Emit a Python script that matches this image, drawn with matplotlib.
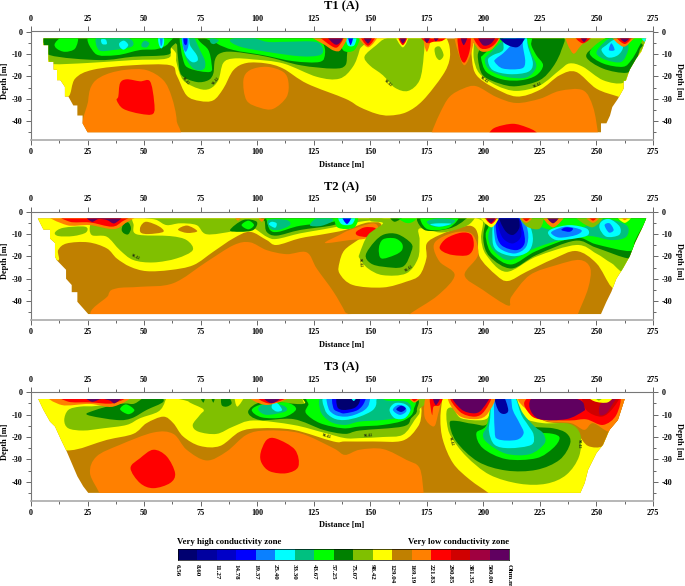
import matplotlib
matplotlib.use("Agg")
from matplotlib import pyplot as plt
from matplotlib.colors import ListedColormap
from matplotlib.patches import PathPatch, Polygon
from matplotlib.path import Path
import numpy as np

plt.rcParams['font.family'] = ['Liberation Serif', 'DejaVu Serif']
plt.rcParams['font.weight'] = 'bold'

LEVEL_LABELS = ["6.56", "8.60", "11.27", "14.78", "19.37", "25.40", "33.30",
                "43.67", "57.25", "75.07", "98.42", "129.04", "169.19",
                "221.83", "290.85", "381.35", "500.00", "Ohm.m"]
BAND_COLORS = ["#000070", "#0000a0", "#0000c8", "#0000ff", "#0a80ff", "#00ffff",
               "#00c080", "#00ff00", "#008000", "#80c000", "#ffff00", "#c08000",
               "#ff8000", "#ff0000", "#d00000", "#a00040", "#600060"]
NAVY, DBLUE, MBLUE, BLUE, SKY, CYAN, TEAL, GREEN, DGREEN, OLIVE, YELLOW, BROWN, \
    ORANGE, RED, CRIMSON, WINE, PURPLE = BAND_COLORS

DIST_TICKS = [0, 25, 50, 75, 100, 125, 150, 175, 200, 225, 250, 275]
DEPTH_TICKS = [0, 10, 20, 30, 40]
DEPTH_LABELS = ["0", "-10", "-20", "-30", "-40"]

# measured extent of each section (distance m, depth m)
T1_OUTLINE = [(3.2, 3), (5.5, 3), (5.5, 6), (7.7, 6), (7.7, 13.5), (10, 13.5), (10, 17), (11.5, 17),
              (11.5, 21.7), (13, 21.7), (15, 24.7), (15, 29), (16.5, 29), (18.7, 33), (20.5, 33),
              (20.5, 37.5), (22.8, 37.5), (22.8, 41), (25, 45), (252, 45), (252, 41), (254.4, 41),
              (256, 37.5), (257, 33.7), (259.5, 30), (262, 25.5), (262, 22), (263, 22), (264.7, 17),
              (267.6, 12), (269.8, 9), (272, 3)]
T2_OUTLINE = [(3, 3), (5.5, 8), (8.4, 8), (8.4, 12), (10.6, 14), (10.6, 20), (11.3, 21.6), (15.5, 26),
              (15.5, 30), (18, 32.8), (18, 36), (20.5, 36), (20.5, 40.3), (25.3, 45.8), (252, 45.8),
              (254.4, 40.3), (256.6, 35.8), (258.8, 30), (261.7, 25.4), (264.7, 20), (267, 14),
              (269.9, 8), (272, 3)]
T3_OUTLINE = [(3.2, 3), (5.5, 7.9), (8.4, 13.1), (10.6, 15.3), (13.3, 21.3), (15.8, 26.5), (18, 31.7),
              (20.5, 37.6), (23.1, 42.1), (25.3, 45), (242.9, 45), (244.8, 40.6), (246.3, 34.7),
              (250, 27.2), (252.9, 23.5), (255.8, 16.8), (259.5, 12.4), (262.5, 3)]

# contour bands traced off each section, drawn back to front
T1_BANDS = [
    (YELLOW, [(0, -3), (0, 15), (10, 26), (16.5, 29), (19.5, 21), (27.5, 17), (45, 15), (61.5, 15), (64.4, 19.5),
              (68.8, 28.5), (74.7, 31), (80.6, 30.7), (85, 25.5), (89.5, 17.2), (95.3, 14), (104, 14.2), (111.5, 16.5),
              (122, 23.2), (139, 30), (145.3, 33.7), (152.7, 36.7), (158.5, 37.5), (166, 36), (173.3, 30.7), (182, 19.5),
              (185, 12.7), (185, 6.5), (183, 0.7), (183, -3)]),
    (YELLOW, [(195, -3), (194.7, 0.7), (195, 12.7), (197, 19.5), (204, 24.7), (214.6, 29), (225, 26), (233.7, 19.5),
              (241, 18), (250, 25.5), (259.5, 29), (264.7, 30.7), (285, 32), (285, -3)]),
    (ORANGE, [(25.3, 48), (25.3, 30.7), (27.5, 23), (33.5, 19), (42.3, 17), (51.1, 17.2), (58.5, 21.7), (62.2, 29.2),
              (64.4, 39.7), (63, 48)]),
    (RED, [(38.6, 29), (39.4, 23), (42.3, 21.3), (48.2, 22.2), (52.6, 22.2), (54.4, 31), (54, 36.7), (48.2, 36.7),
           (40.8, 34.5), (37.9, 30.7)]),
    (ORANGE, [(93.9, 21.7), (96.8, 17.2), (104.2, 15.7), (111.5, 18), (113.8, 22.5), (113, 29.2), (107.1, 34.5),
              (101.2, 34), (95.3, 30.7)]),
    (ORANGE, [(177, 49), (177, 45.7), (180.7, 36.7), (185, 29.2), (191, 25.5), (196.9, 24.4), (205.7, 29.2),
              (214.6, 31.9), (225, 30), (233.7, 26.5), (244, 26.2), (248.5, 33.7), (250.7, 45.7), (250.7, 49)]),
    (RED, [(201, 49), (202.8, 45), (205.7, 42.7), (213, 41.2), (219, 42.7), (223.4, 45), (225, 49)]),
    # olive
    (OLIVE, [(0, -2), (4, 4), (7.7, 12.7), (10, 14.5), (25, 14), (45, 12.7), (60, 12), (61.7, 8), (61.7, -2)]),
    (OLIVE, [(64, -2), (64.2, 10), (64.4, 14), (67.3, 21.7), (74.2, 25.5), (79.1, 25.5), (82.8, 21.7), (85, 14),
             (89.5, 12), (98.3, 12.4), (111.5, 14.2), (126.4, 20.2), (136.4, 21), (142.3, 15.7), (145.3, 8), (147, -2)]),
    (OLIVE, [(147.5, 11), (152.7, 6), (157, 3), (166, 2), (173.3, 3), (173.6, 11), (171.8, 21.7), (166.7, 26.5),
             (160.8, 25), (155.6, 19.5), (149.7, 15)]),
    (OLIVE, [(178.5, 7.5), (180.7, 6.7), (182.4, 10.5), (180.7, 12.7), (179, 11)]),
    (OLIVE, [(195.8, 0), (195.8, 5.5), (195.8, 12.2), (198.3, 18.7), (205.7, 24), (214.6, 26.5), (225, 24), (233.7, 17.2),
             (238.1, 14.2), (244, 15.7), (252.9, 21.7), (261.7, 22.9), (264.7, 17.2), (269, 9.7), (275, 1), (275, -2)]),
    # dark green
    (DGREEN, [(3, 0), (5.5, 5), (8.4, 10.5), (30.4, 12.7), (45.2, 11.2), (60, 10.4), (61.7, 7.5), (61.7, 0)]),
    (DGREEN, [(64.3, 0), (64.6, 6), (65.1, 12.7), (66.6, 19.5), (73.2, 22.5), (78.4, 21.7), (80.6, 18.7), (81.3, 12.7),
              (83.6, 9.7), (89.5, 9), (104.2, 11.2), (119, 15), (133.7, 16.5), (139, 15), (140, 8.7), (143, 3.7), (144, 0)]),
    (DGREEN, [(197.6, 12), (199.8, 19.5), (207.2, 23.2), (214.6, 24.4), (224.9, 21.7), (230.8, 15.7), (234.5, 8.2),
              (234.9, 2), (220.5, 1), (207.2, 1), (201.3, 6), (198.3, 8.2)]),
    (DGREEN, [(245.5, 11.2), (252.9, 16.5), (263.2, 18.4), (266.9, 15), (269.1, 8.2), (269.8, 5.2), (258.8, 1), (250, 6)]),
    # bright green
    (GREEN, [(10.6, 5.2), (14.3, 2), (20.5, 2), (19.5, 7.5), (15, 9), (11.3, 7.5)]),
    (GREEN, [(27.5, 0), (28.3, 9.7), (37.9, 10.5), (48.2, 8.2), (55.6, 7.8), (60.7, 5.2), (60.7, 0)]),
    (GREEN, [(65.9, 1), (67.3, 12.7), (70.2, 16.5), (79.1, 18), (79.8, 14.2), (78.4, 8.2), (74.7, 4.5), (71.8, 1)]),
    (GREEN, [(78.4, 1), (82.1, 5.2), (89.5, 8.2), (102.7, 10.5), (116, 13.2), (127.7, 13.5), (130, 9.7), (129, 5), (125, 1)]),
    (GREEN, [(199, 12), (201.3, 18), (208.6, 21.4), (216.8, 21.7), (223.4, 19.5), (226.4, 15), (223.4, 10.5), (221.2, 6),
             (220.5, 1), (207.2, 1), (202, 8.2), (199.8, 10.5)]),
    (GREEN, [(247, 9.7), (252.9, 14.2), (261.7, 15.7), (265.4, 12.7), (268.4, 7.5), (270.6, 1), (259.5, 1), (251.4, 4.5)]),
    (GREEN, [(137.2, 1), (137.9, 8.2), (143, 8.2), (145.3, 1)]),
    # teal
    (TEAL, [(29.3, 2), (30, 8.2), (36.4, 8.2), (44.5, 6.7), (44.5, 3.7), (39.4, 2)]),
    (TEAL, [(49, 5.2), (50.4, 4), (52.3, 5.2), (51.1, 7), (49, 6.7)]),
    (TEAL, [(66.6, 1), (68, 10.5), (71.8, 16.5), (76.2, 16.9), (77, 13.5), (74.7, 8.2), (71, 1)]),
    (TEAL, [(88, 3.7), (92.4, 6.7), (104.2, 9), (119, 11), (127.7, 10.5), (129, 7.5), (125.6, 4.5), (113, 4.5), (104.2, 4.5),
            (95.4, 2)]),
    (TEAL, [(79, 3), (81, 3), (83, 4), (81, 5.5), (79.5, 5)]),
    (TEAL, [(200.6, 12.7), (202.8, 17.2), (210.1, 20.2), (219, 20.5), (223.4, 15.7), (221.2, 9.7), (219.7, 5.2), (218.2, 1),
            (210.1, 3), (202.8, 9.7)]),
    (TEAL, [(250, 9.7), (254.4, 12.7), (261, 13.5), (264, 8.2), (263.2, 4.5), (258, 2), (252.9, 5.2)]),
    # cyan and blue
    (CYAN, [(39, 5.2), (41.1, 4), (43, 6), (41.1, 8), (39.4, 7)]),
    (CYAN, [(31, 3.5), (33, 3.5), (33.5, 5.5), (31.5, 5.5)]),
    (CYAN, [(56.3, 1), (58.5, 1), (58.8, 5.2), (57.6, 7.5), (56.4, 5.2)]),
    (SKY, [(57, 1), (58.2, 1), (58, 5.5), (57.3, 6)]),
    (CYAN, [(66.6, 1), (68, 9.7), (71, 13.5), (73.6, 13), (73.3, 10.5), (70.3, 6), (69.6, 1)]),
    (SKY, [(67, 1), (67.3, 6.7), (68.4, 9), (69.6, 6), (69.2, 1)]),
    (BLUE, [(67.3, 1), (67.6, 5), (68.4, 6), (69, 5), (69, 1)]),
    (CYAN, [(139.4, 1), (140, 6), (143, 6), (143.8, 1)]),
    (BLUE, [(140, 1), (141.3, 6), (142.6, 1)]),
    (CYAN, [(202, 12.7), (204.2, 17.2), (211.6, 19), (219.7, 18), (221.9, 14.2), (219.7, 6.7), (218.2, 1), (209.4, 2),
            (208.7, 8.2), (204.2, 10.5)]),
    (SKY, [(205, 13.5), (208.7, 16.5), (216.8, 16.5), (218.5, 13.5), (217.5, 6.7), (216.8, 1), (211.6, 6.7), (208.7, 9.7),
           (205.7, 12)]),
    (DBLUE, [(206.9, 1), (209.4, 5.2), (214.6, 7), (217.5, 4.5), (218, 1)]),
    (CYAN, [(252.2, 8.2), (255.1, 11.5), (259.5, 10.5), (261.7, 6.7), (258, 3.7), (254.4, 6)]),
    (SKY, [(255.5, 8.2), (256.6, 5.2), (258, 8.2)]),
    (CYAN, [(269.1, 1), (271.3, 4.5), (272.5, 1)]),
    # top of the section, resistive lobes
    (ORANGE, [(123, 1), (130, 6), (134, 8.5), (137, 8), (139, 1)]),
    (RED, [(127, 1), (133, 6.5), (136, 6.5), (138, 1)]),
    (PURPLE, [(130.5, 1), (134, 5.5), (136.5, 5), (138, 1)]),
    (ORANGE, [(144.5, 1), (149, 7), (153.4, 1)]),
    (RED, [(145.5, 1), (149, 6.3), (152.5, 1)]),
    (PURPLE, [(146.5, 1), (149, 5.3), (151, 1)]),
    (YELLOW, [(161, 1), (164.4, 7), (167, 1)]),
    (RED, [(162, 1), (164.4, 6), (166.7, 1)]),
    (PURPLE, [(162.7, 1), (164.4, 5.2), (166.3, 1)]),
    (ORANGE, [(173.3, 1), (175, 9), (177, 1)]),
    (RED, [(172, 1), (175, 5), (178, 4.5), (182, 4), (184, 1)]),
    (PURPLE, [(173.5, 1), (175, 5), (176.8, 1)]),
    (PURPLE, [(177.8, 1), (179, 4.3), (181, 1)]),
    (ORANGE, [(187.6, 1), (188.8, 9), (191.7, 15), (195, 8), (195, 1)]),
    (RED, [(188.8, 1), (189.5, 10.5), (191.7, 13.8), (194, 8.2), (194, 1)]),
    (PURPLE, [(189.8, 1), (191.3, 6), (193.2, 1)]),
    (ORANGE, [(194.7, 1), (196.9, 6.7), (199.8, 9), (204.2, 7.5), (207.2, 1)]),
    (RED, [(195.8, 1), (198.3, 7), (202, 7.5), (205.5, 5), (206.5, 1)]),
    (PURPLE, [(197.6, 1), (199.8, 6), (203.5, 5.2), (205.3, 1)]),
    (ORANGE, [(236.7, 1), (239.6, 9.7), (243.3, 6), (248.5, 1)]),
    (RED, [(240, 1), (244, 5.2), (248.5, 1)]),
    (PURPLE, [(242.5, 1), (244.5, 4.6), (246.5, 1)]),
    (ORANGE, [(256.6, 1), (261.7, 6.7), (266.2, 3.4), (268.4, 1)]),
    (RED, [(258, 1), (262.5, 5.5), (266, 1)]),
    (PURPLE, [(259.5, 1), (262.5, 4.6), (265.5, 1)]),
]

T2_BANDS = [
    (ORANGE, [(34.2, 49), (34.2, 37.3), (37.9, 34.3), (48.2, 33.6), (62.9, 32), (77.7, 22.4), (89.5, 15), (96.8, 13.7),
              (104.2, 17.2), (113, 19), (121.9, 18.2), (126.3, 25.4), (133.7, 35.8), (138.8, 44.8), (140, 49)]),
    (YELLOW, [(0, -3), (0, 15), (11.6, 21.8), (12, 17.2), (15.8, 14.2), (25.3, 13.7), (33.5, 16.4), (37.9, 20.9), (43.8, 24.6),
              (51.1, 26.6), (61.5, 26.1), (71.8, 23.9), (80.6, 17.9), (89.5, 11.9), (96.8, 9), (104.2, 12.7), (108.6, 14.9),
              (118.9, 11.9), (129.2, 10.1), (138.8, 8.2), (148, 5), (156, 4), (156, -3)]),
    (YELLOW, [(136.4, 22.7), (136.4, 27.6), (142.3, 32.8), (155.6, 33.9), (165.9, 31.3), (171.8, 28.4), (174.8, 20.9),
              (175, 14.2), (180.7, 10.4), (191, 6.7), (195.4, 6.7), (197.6, 10.4), (198.3, 20.1), (205.7, 28.4), (210.9, 31),
              (219, 26.9), (230.8, 21.2), (241.1, 17.6), (250, 23.1), (256.6, 33.6), (262, 35), (285, 30), (285, -3), (155, -3),
              (154.9, 6), (149, 9.7), (144.5, 12.7), (138.6, 17.2)]),
    (ORANGE, [(167.3, 49), (167.3, 46), (179.8, 37.5), (187.3, 28.4), (180.7, 22.4), (178, 15.7), (180.7, 11.9), (188.8, 9),
              (195.4, 10.4), (197.6, 19.4), (191.7, 28.4), (199.8, 35), (210.9, 42), (212.4, 38), (220.5, 28.4), (232.3, 23.9),
              (242.6, 21.6), (247.3, 25.4), (246.3, 34.3), (241.8, 45.8), (241, 49)]),
    (RED, [(180.7, 15.7), (183.7, 11.9), (190.2, 9.4), (194.7, 10.4), (195.7, 15.7), (193.2, 19.4), (186.6, 19.4), (182.2, 17.9)]),
    (ORANGE, [(136.4, 10.4), (140.9, 8.2), (151.2, 5.2), (153.4, 8.2), (148.3, 11.9), (140.9, 12.7), (130, 14)]),
    (RED, [(143.8, 9), (147.5, 7), (151.9, 7.2), (152.4, 9), (149, 11.2), (144.5, 10.7)]),
    # olive
    (OLIVE, [(10.6, 9.3), (14.3, 7.2), (23.9, 6.7), (24.3, 9.3), (18.7, 10.9), (12.1, 10.9)]),
    (OLIVE, [(26.4, 5.2), (26.8, 10.4), (33.5, 11.2), (39.3, 17.2), (45.2, 21.6), (54.1, 22.7), (64.4, 20.9), (71.5, 17.2),
             (68.8, 12.7), (61.5, 10.9), (46.7, 10.1), (45.2, 5.2), (42.3, 1), (30.5, 1)]),
    (OLIVE, [(49.7, 1), (55.6, 3.7), (60, 6), (65.9, 5.2), (73.2, 6), (77.7, 10.1), (89.5, 8.7), (96.8, 6.7), (104.2, 11.2),
             (108.6, 12.2), (118.9, 9.7), (129.2, 7.9), (138.8, 6), (145.3, 4.5), (155.6, 3), (156, 0)]),
    (BROWN, [(48.5, 6.5), (51, 4.5), (56.5, 6.5), (58.5, 9), (52, 10), (48.5, 9.3)]),
    (BROWN, [(65, 8), (69, 6.2), (73.5, 8.7), (69, 9.5)]),
    (OLIVE, [(149, 10.4), (145.3, 18.7), (145.3, 20.9), (149, 25.4), (155.6, 28.4), (165.9, 27.6), (171.1, 20.9), (171.8, 12.7),
             (171.8, 7.5), (180.7, 9.3), (187.3, 8.2), (193.2, 6), (196.1, 3), (197, 0), (155, 0), (150, 4), (155.6, 5.2)]),
    (OLIVE, [(199.8, 4.5), (199, 11.9), (201.3, 19.4), (210.1, 26.9), (223.4, 20.1), (241.1, 14.9), (249.9, 18.7), (256.6, 23),
             (263.2, 26.1), (269, 6), (275, 0), (197, 0)]),
    (DGREEN, [(88, 8.2), (93.9, 3.7), (99.8, 4.5), (98.3, 8.2), (92.4, 9)]),
    (GREEN, [(93.1, 6), (96.1, 4), (98.6, 6), (96.1, 7.9)]),
    (DGREEN, [(40.1, 8.2), (40.8, 5.7), (43, 4.8), (44.2, 7.5), (43, 10.1), (41.1, 9.7)]),
    (DGREEN, [(103.4, 4.5), (104.2, 9), (108.6, 10.7), (118.9, 8.2), (133.7, 6), (138.8, 3), (140, 1), (103, 1)]),
    (GREEN, [(104.2, 3.7), (105.7, 8.2), (109.4, 9), (118.9, 6.3), (133.7, 4.5), (138, 1), (104, 1)]),
    (TEAL, [(105, 3.7), (105.7, 7.5), (109.4, 8.2), (114.5, 6), (113, 3.7)]),
    (TEAL, [(123.3, 6), (128.5, 6.3), (133.7, 3.7), (127.7, 2)]),
    (CYAN, [(105.2, 5.7), (107.9, 7.2), (108.6, 5.2), (106.4, 4.5)]),
    (DGREEN, [(148, 19.4), (150.2, 23.1), (155.6, 24.6), (164.4, 24.6), (168.1, 17.9), (168.1, 14.2), (162.2, 10.1), (156.3, 10.1),
              (151.9, 13.4)]),
    (GREEN, [(153.8, 16.4), (154.9, 20.9), (160.8, 19.4), (164, 17.2), (164, 14.2), (160.8, 11.9), (155.6, 12.4)]),
    (DGREEN, [(171.8, 1), (174, 8.2), (185, 7.5), (191.7, 3.7), (192, 1)]),
    (GREEN, [(173, 1), (175, 7.7), (184.8, 7.2), (188.8, 1)]),
    (TEAL, [(175, 4.5), (178.4, 6.7), (185, 6), (187.3, 3.7), (180, 3)]),
    (CYAN, [(176.5, 5.7), (180.7, 6.7), (185.8, 5.4), (180, 5.2)]),
    (DGREEN, [(158.5, 1), (160.8, 4.5), (166, 1)]),
    (GREEN, [(160.8, 1), (165.2, 4.8), (168.9, 4.5), (171.1, 1)]),
    (GREEN, [(135, 1), (135.5, 7), (143, 7), (144, 1)]),
    (CYAN, [(136, 1), (137.2, 5.5), (142, 5.5), (143, 1)]),
    (BLUE, [(137.2, 1), (139.7, 5.5), (142, 1)]),
    (DGREEN, [(201.3, 4.5), (200, 12.7), (202.8, 20.1), (212.4, 25.4), (223.4, 19.4), (240.4, 13), (249.9, 16.1), (264.4, 20.9),
              (266.2, 16.4), (270, 8), (275, 0), (205, 0)]),
    (GREEN, [(202, 7.5), (201.3, 12.7), (204, 19.1), (212.4, 23.6), (223.4, 17.6), (240.4, 11.6), (249.9, 14.6), (264.7, 17.6),
             (266.9, 13.4), (269.9, 7.5), (275, 0), (210, 0)]),
    (TEAL, [(202.8, 8.2), (202.3, 12.7), (205, 17.9), (211.6, 21.6), (223.4, 16.1), (235.2, 12.4), (247, 10.9), (256.6, 12.7),
            (263.2, 11.2), (263.2, 6), (252.9, 3.3), (242.6, 7.5), (230.8, 8.2), (223.4, 6), (219, 3.7), (205.7, 2)]),
    (CYAN, [(204, 11.2), (205.7, 17.2), (213.1, 19.9), (219.7, 18), (221.9, 12.7), (220.4, 6), (216, 1), (205.7, 1)]),
    (SKY, [(205, 11.2), (207.2, 16.4), (213.8, 18.7), (218.9, 15.7), (219.7, 9), (216.8, 3.7), (205.7, 1)]),
    (BLUE, [(205.7, 9), (208, 15), (214.6, 17.2), (218.2, 14.2), (217.5, 7.5), (214.6, 1), (206.4, 1)]),
    (MBLUE, [(206.4, 6), (208.7, 11.9), (213.1, 14.2), (216.8, 10.4), (214.6, 1), (206, 1)]),
    (NAVY, [(206.9, 1), (209.4, 8.2), (213.1, 10.4), (216, 6.7), (214.2, 1)]),
    (CYAN, [(228.6, 9.7), (232.3, 12.7), (241.1, 11.9), (246.3, 10.4), (245.6, 7.5), (238.2, 6), (230.8, 7.5)]),
    (SKY, [(230, 9.7), (233.7, 11.6), (241.1, 10.4), (243.3, 8.2), (236.7, 6.7), (231.5, 8.2)]),
    (BLUE, [(234.5, 8.2), (238.1, 9), (239.6, 7.5), (236.5, 7)]),
    (CYAN, [(251.4, 7.5), (254.4, 11.2), (260, 10.4), (260.3, 6.7), (255.8, 3.3), (252.1, 4.5)]),
    (SKY, [(253.6, 6), (255.5, 9.3), (257.6, 8.2), (255.8, 5.2)]),
    # top of the section
    (ORANGE, [(9.1, 1), (15.8, 6), (26, 6), (36.4, 7.8), (41.6, 5.2), (44.5, 1)]),
    (RED, [(13.7, 1), (17.2, 4.5), (26, 4.8), (35.7, 6.7), (40.1, 4.5), (43, 1)]),
    (PURPLE, [(24.6, 1), (26.8, 4.5), (29.8, 3.3), (33.5, 3.7), (37, 5.2), (40.1, 1)]),
    (ORANGE, [(89.5, 1), (91.5, 4), (93.5, 1)]),
    (ORANGE, [(100, 1), (102, 4.5), (104, 1)]),
    (YELLOW, [(198, 1), (203.5, 7), (207, 1)]),
    (RED, [(200, 1), (203.5, 5.5), (206.5, 1)]),
    (PURPLE, [(200.8, 1), (203.3, 5), (206, 1)]),
    (OLIVE, [(216, 1), (219, 6.5), (225, 7.5), (226, 1)]),
    (ORANGE, [(215.5, 1), (219, 5), (222.5, 1)]),
    (RED, [(216.5, 1), (219, 4.2), (221.5, 1)]),
    (ORANGE, [(226, 1), (230.8, 7), (236, 1)]),
    (PURPLE, [(227.5, 1), (230.8, 5.2), (234, 1)]),
    (OLIVE, [(240, 1), (248, 7), (253, 1)]),
    (ORANGE, [(244.5, 1), (248.5, 5), (252, 1)]),
    (RED, [(246, 1), (248.5, 4), (251, 1)]),
    (YELLOW, [(258.5, 1), (262.5, 5), (266, 1)]),
    (ORANGE, [(260, 1), (262.5, 3.8), (265, 1)]),
]

T3_BANDS = [
    (ORANGE, [(28, 49), (30.5, 46), (26.1, 36.2), (29, 28.7), (39.3, 23.5), (54.1, 18), (62.9, 18.6), (68.8, 25.7), (77.7, 30.5),
              (86.5, 26.5), (95.3, 19), (104.2, 17.1), (118.9, 18.3), (133.7, 25), (138.8, 28), (145.3, 25.7), (155.6, 25.4),
              (165.9, 30.2), (171.8, 33.9), (173.6, 45), (174, 49)]),
    (RED, [(44, 33.9), (48.2, 29.5), (54.1, 25.7), (60, 28.7), (63.7, 36.2), (61.5, 40.6), (54.1, 42.9), (48.2, 40.6)]),
    (RED, [(101.5, 27.2), (104.2, 21.3), (108.6, 20.8), (116.7, 25.7), (118.2, 33.2), (113, 36.2), (105.7, 35.4), (102, 31.7)]),
    (YELLOW, [(0, -3), (0, 20), (15.8, 26), (33.5, 21.3), (45.2, 18.6), (51.1, 13.8), (58.5, 10.9), (62.9, 13.8), (67.3, 19.8),
              (74.7, 24), (83.6, 24), (92.4, 17.6), (101.2, 16.1), (116, 16.8), (133.7, 22), (138.8, 22), (151.2, 22), (164.4, 21.6),
              (171.1, 15.3), (172.6, 9.4), (171.8, 5), (166.7, 1.2), (166, -3)]),
    (YELLOW, [(182.1, -3), (182.1, 0.5), (181, 11.6), (182.1, 21.3), (186.6, 31.7), (193.9, 39), (203.4, 46), (204, 49), (243.6, 49),
              (254, 22), (262, 0), (262, -3)]),
    (BROWN, [(218, 0.5), (218.5, 2.8), (220, 7.9), (227.4, 13), (236.7, 14.4), (241.8, 18.9), (246.3, 24), (252.9, 24), (255.5, 17.6),
             (259.5, 12.4), (265, 0.5)]),
    (ORANGE, [(218.3, 1), (221, 9.4), (228.4, 13), (238.7, 13.8), (244.6, 16.8), (248.5, 13.8), (255.8, 17.6), (260, 12.5),
              (265, 1)]),
    (RED, [(218.2, 4.2), (220.2, 9.4), (224.9, 12.1), (238.1, 12.6), (245.5, 12.1), (252.9, 14.6), (258.8, 10.1), (260, 1),
           (248.5, 1), (224.9, 1)]),
    (CRIMSON, [(245.5, 7.9), (252.2, 10.9), (257.3, 7.1), (259.5, 1), (244.8, 1)]),
    (WINE, [(251.4, 10), (254.4, 9.4), (257.3, 5), (258.8, 2), (252, 5)]),
    (PURPLE, [(220.5, 7.1), (224.9, 12), (236.7, 12), (244, 8.6), (244.8, 7.1), (242.6, 3.4), (230.8, 1), (222, 2)]),
    (YELLOW, [(246, 1), (249, 4), (255, 4.5), (257, 1)]),
    (OLIVE, [(249, 1), (251, 3.7), (254, 1)]),
    # left half
    (OLIVE, [(14.7, 12.4), (16.5, 16.1), (23.1, 17.1), (32, 16.1), (42.3, 14.6), (48.2, 11.6), (56.3, 8.6), (59.2, 4.2), (58.5, 1),
             (45.2, 1), (39.3, 4.2), (29, 6.1), (21.7, 6.4), (16.5, 7.9)]),
    (DGREEN, [(24.9, 10.1), (37.9, 12.4), (44.5, 11.6), (51.1, 7.9), (58.5, 4.2), (56.3, 1), (51.9, 1), (45.9, 5), (41.6, 5),
              (36.4, 5.7), (28.3, 8)]),
    (GREEN, [(39.4, 7.6), (42, 5.4), (45.7, 7.9), (43, 9.8)]),
    (OLIVE, [(71.5, 14.6), (74, 17.6), (82.1, 18.6), (89.5, 15.3), (98.3, 12.6), (116, 14.6), (129.2, 18), (138.8, 20.5), (145.3, 20.5),
             (155.6, 20), (164.4, 19), (169.6, 12.4), (171.8, 7.9), (166.7, 1), (69, 1), (69.7, 4.2), (76.2, 7.6), (74.7, 10.1)]),
    (YELLOW, [(90.2, 1), (91.2, 6.4), (94.6, 1)]),
    (YELLOW, [(119.7, 1), (121, 5), (122.6, 1)]),
    (DGREEN, [(84.3, 5.7), (86.5, 6.4), (88.7, 4.9), (87.2, 2), (84.3, 2)]),
    (DGREEN, [(74.4, 1), (76.2, 4.6), (76.9, 1)]),
    (DGREEN, [(79.4, 1), (80.6, 4.6), (81.4, 1)]),
    (DGREEN, [(96, 8.6), (101.2, 12.4), (116, 12), (129.2, 16.8), (138.8, 18.6), (145.3, 17.1), (164.4, 15.3), (168.1, 11.6), (170.6, 7.9),
              (166.7, 1), (123.3, 1), (120.4, 5.2), (102.7, 4.2)]),
    (GREEN, [(97.6, 7.9), (102, 11.2), (111.6, 11.2), (117.2, 7.6), (113, 4.6), (102.7, 5.2)]),
    (GREEN, [(121.6, 9.4), (127.8, 13.8), (137.9, 16.1), (145.3, 15.3), (155.6, 14.6), (165.2, 12.4), (169.2, 7.9), (165.9, 1), (125.6, 1),
             (122.6, 5.7)]),
    (TEAL, [(100.5, 7.9), (104.2, 10.1), (112.4, 8.6), (112.4, 6.4), (107.1, 4.9), (102, 5.7)]),
    (CYAN, [(106.5, 7.1), (108.6, 8.6), (111, 7.9), (108.9, 4.9), (106.8, 5.2)]),
    (TEAL, [(127.8, 7.9), (132.2, 13.1), (138.8, 14.6), (145.3, 13.1), (155.6, 12.4), (164.4, 10.9), (168.1, 7.6), (165.9, 4.2), (157.1, 3.7),
            (151.2, 1), (130, 1)]),
    (CYAN, [(130, 7.9), (133.7, 11.6), (138.8, 12.4), (145.3, 10.9), (151.2, 7.9), (152.7, 4.2), (150.4, 1), (130.7, 1)]),
    (SKY, [(131.5, 7.1), (134.4, 10.1), (138.8, 10.9), (143, 10.1), (147.5, 7.9), (149.5, 4.9), (148.2, 1), (132.2, 1)]),
    (BLUE, [(133.7, 7.1), (136.6, 9), (138.8, 9.4), (144.5, 7.9), (147.5, 4.2), (146.8, 1), (134.4, 1)]),
    (NAVY, [(135.4, 6.4), (138, 7.9), (143, 7), (145.3, 4.2), (144.5, 1), (135.9, 1)]),
    (CYAN, [(140.9, 1), (142.7, 3.9), (144.2, 1)]),
    (CYAN, [(158.5, 7.9), (160.8, 11.6), (165.2, 11.6), (167.7, 7.9), (165.2, 5.2), (160.8, 4.9)]),
    (SKY, [(160, 7.9), (163, 10.1), (165.9, 8.6), (165.2, 6.4), (162.2, 5.7)]),
    (MBLUE, [(161.5, 7.6), (163.7, 8.8), (165.7, 7.3), (163.7, 6)]),
    # right half
    (OLIVE, [(183.9, 7.9), (183.9, 13.8), (185.7, 19.8), (192.5, 28.7), (202.8, 36.9), (216, 40.9), (227.8, 40.9), (236.7, 36.9),
             (242.3, 28.7), (242.9, 19), (238.1, 14.1), (226.4, 13.8), (218.2, 11.6), (215.3, 6.4), (213.8, 1), (202.8, 1),
             (202.8, 9.4), (199.8, 12.4), (190.2, 11.6), (186.6, 7.1)]),
    (DGREEN, [(185.1, 13.8), (188, 22), (197.6, 31), (210.1, 35), (223.4, 34.7), (233.7, 30.2), (238.4, 22.8), (236.7, 18.3),
              (230.8, 16.1), (219.7, 14.9), (215.3, 9.4), (213, 1), (204.9, 1), (202, 13.8), (195.4, 14.1), (188, 12.8)]),
    (GREEN, [(196.9, 18.3), (199.8, 25), (210.1, 29.9), (223.4, 29.5), (230.8, 25), (233.7, 20.5), (230.8, 18.6), (222.7, 17.6),
             (217.5, 13.8), (214.6, 7.9), (212.8, 1), (205, 1), (201.4, 14.6)]),
    (TEAL, [(199.8, 19), (202, 22.8), (210.1, 27.5), (220.5, 27.7), (227.1, 22.8), (226.4, 18.3), (222.7, 15.3), (217.5, 9.4),
            (213, 1), (205, 1), (202, 14.1)]),
    (CYAN, [(202.5, 17.6), (205, 23.5), (211.6, 25), (221.2, 23.5), (222.2, 19), (219.7, 14.6), (216.8, 10.1), (213, 1), (204.5, 1),
            (203, 11.6)]),
    (SKY, [(205, 16.8), (206.5, 21), (214.6, 21.3), (217.8, 18.3), (216, 13.8), (213, 7.9), (211.5, 1), (205.3, 1)]),
    (DBLUE, [(204.7, 1), (206.5, 7.9), (209, 9.7), (211, 7.9), (208.5, 1)]),
    # top of the section
    (ORANGE, [(9.1, 1), (13.6, 5.7), (26, 5.2), (36.4, 6.4), (43, 1)]),
    (RED, [(13.6, 1), (16.5, 4.2), (26, 4.5), (36.4, 4.9), (41.6, 1)]),
    (PURPLE, [(23.9, 1), (26.8, 4.2), (31.2, 3), (34.9, 3.7), (37.1, 4.9), (40.1, 1)]),
    (ORANGE, [(96, 1), (104.2, 5.7), (116, 1)]),
    (RED, [(99.5, 1), (105.5, 5), (115, 1)]),
    (PURPLE, [(102, 1), (106.4, 4.9), (111.6, 1)]),
    (ORANGE, [(166.5, 1), (169.5, 4.6), (173.1, 1)]),
    (RED, [(167.5, 1), (169.5, 4), (172, 1)]),
    (ORANGE, [(175, 1), (174, 10.9), (178, 15.3), (179.9, 10.1), (181.4, 1)]),
    (RED, [(176.5, 1), (177.3, 10.1), (178, 6.4), (180.7, 5.7), (182.1, 1)]),
    (PURPLE, [(177.6, 1), (179, 5.7), (181.4, 1)]),
    (ORANGE, [(185.1, 1), (188.8, 10.1), (196.9, 12), (202, 9.4), (204.2, 1)]),
    (RED, [(185.8, 1), (189.5, 8.6), (196.2, 10.9), (200.6, 8.2), (202.6, 1)]),
    (PURPLE, [(186.6, 1), (190.2, 7.6), (196.2, 9.4), (199.8, 7.1), (202, 1)]),
]

# contour labels: distance, depth, rotation
T1_NOTES = [(68.5, 22, -50), (82, 22, 50), (158, 23, -40), (200.5, 21.5, -35), (224, 23.7, 25)]
T2_NOTES = [(46.3, 20.4, -25), (145.6, 22.7, -85), (167.4, 25.4, 35)]
T3_NOTES = [(130.7, 19.8, -15), (149.4, 19.5, 5), (185.8, 22, -75), (242.1, 22.8, -90)]


def smooth_path(points):
    # closed curve through the traced points
    pts = np.array(points, dtype=float)
    n = len(pts)
    verts = [pts[0]]
    codes = [Path.MOVETO]
    for i in range(n):
        p0, p1, p2, p3 = pts[i - 1], pts[i], pts[(i + 1) % n], pts[(i + 2) % n]
        verts += [p1 + (p2 - p0) / 6, p2 - (p3 - p1) / 6, p2]
        codes += [Path.CURVE4, Path.CURVE4, Path.CURVE4]
    return Path(verts, codes)


def draw_section(top_px, bottom_px, zero_px, outline, bands, notes, title, title_px, label_px):
    ax = fig.add_axes([31 / 685, 1 - bottom_px / 586, 622 / 685, (bottom_px - top_px) / 586])
    px_per_m = 2.235
    ax.set_xlim(0, 275)
    ax.set_ylim((bottom_px - zero_px) / px_per_m, (top_px - zero_px) / px_per_m)

    section = Polygon(outline, closed=True, facecolor=BROWN, edgecolor='none', zorder=1)
    ax.add_patch(section)
    for n, (color, points) in enumerate(bands):
        band = PathPatch(smooth_path(points), facecolor=color, edgecolor='none', zorder=2 + n * 0.01)
        ax.add_patch(band)
        band.set_clip_path(section)
    for x, d, angle in notes:
        ax.text(x, d, "98.42", fontsize=3, rotation=angle, ha='center', va='center',
                color='#203010', zorder=5, clip_on=True)

    ax.set_xticks(DIST_TICKS)
    ax.set_xticks(np.arange(12.5, 275, 25), minor=True)
    ax.set_yticks(DEPTH_TICKS, labels=DEPTH_LABELS)
    ax.set_yticks(np.arange(5, 48, 10), minor=True)
    ax.tick_params(which='both', top=True, right=True, labeltop=True, labelright=True,
                   labelsize=5.9, color='#666666', width=0.7, pad=2.5)
    ax.tick_params(which='major', length=3.5)
    ax.tick_params(which='minor', length=2)
    for side in ax.spines.values():
        side.set_color('#777777')
        side.set_linewidth(0.8)
    ax.spines['bottom'].set_color('#aaaaaa')
    ax.spines['bottom'].set_linewidth(1.2)

    fig.text(342 / 685, 1 - title_px / 586, title, fontsize=9, ha='center', va='center')
    fig.text(342 / 685, 1 - label_px / 586, "Distance [m]", fontsize=6, ha='center', va='center')
    mid = 1 - (zero_px + 22 * px_per_m) / 586
    fig.text(5 / 685, mid, "Depth [m]", fontsize=6, rotation=90, ha='center', va='center')
    fig.text(679 / 685, mid, "Depth [m]", fontsize=6, rotation=270, ha='center', va='center')


fig = plt.figure(figsize=(6.85, 5.86), dpi=100)
draw_section(31, 140, 31.7, T1_OUTLINE, T1_BANDS, T1_NOTES, "T1 (A)", 6, 165)
draw_section(211.5, 320, 211.7, T2_OUTLINE, T2_BANDS, T2_NOTES, "T2 (A)", 187, 345)
draw_section(392, 500.7, 392.3, T3_OUTLINE, T3_BANDS, T3_NOTES, "T3 (A)", 367, 525)

# colour scale
cax = fig.add_axes([177.7 / 685, 1 - 560 / 586, 331.3 / 685, 11 / 586])
edges = np.arange(len(LEVEL_LABELS))
cax.pcolormesh(edges, [0, 1], [np.arange(len(BAND_COLORS))], cmap=ListedColormap(BAND_COLORS))
cax.set_xticks(edges, labels=LEVEL_LABELS, rotation=270, fontsize=5)
cax.set_yticks([])
cax.tick_params(length=0, pad=3)
for side in cax.spines.values():
    side.set_linewidth(0.5)
fig.text(177 / 685, 1 - 541.5 / 586, "Very high conductivity zone", fontsize=6.3, ha='left', va='center')
fig.text(509 / 685, 1 - 541.5 / 586, "Very low conductivity zone", fontsize=6.3, ha='right', va='center')

plt.savefig("out.png", dpi=100)
